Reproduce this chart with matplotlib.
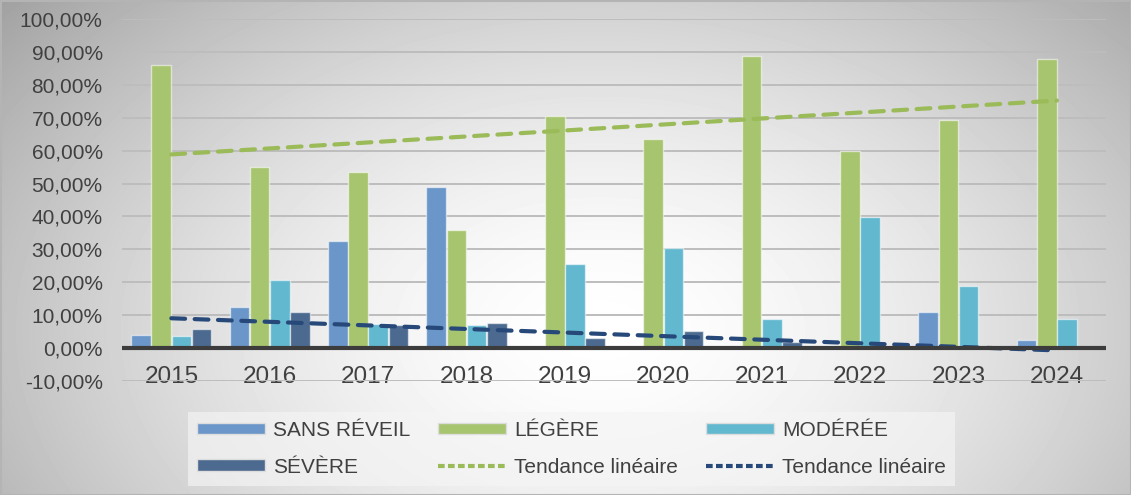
import numpy as np
import matplotlib
matplotlib.use("Agg")
import matplotlib.pyplot as plt
from matplotlib.patches import Rectangle
from matplotlib.lines import Line2D

years = ["2015", "2016", "2017", "2018", "2019", "2020", "2021", "2022", "2023", "2024"]
sans_reveil = [4.0, 12.5, 32.4, 49.0, 0.0, 0.0, 0.0, 0.0, 11.0, 2.6]
legere = [86.0, 55.0, 53.5, 36.0, 70.5, 63.5, 88.8, 60.0, 69.3, 87.8]
moderee = [3.6, 20.7, 7.2, 6.9, 25.6, 30.4, 8.8, 39.8, 18.8, 8.9]
severe = [5.8, 11.0, 7.0, 7.6, 3.2, 5.3, 1.9, 0.0, 0.0, 0.0]

series_names = ["SANS RÉVEIL", "LÉGÈRE", "MODÉRÉE", "SÉVÈRE"]
colors = ["#6A96C9", "#A7C46F", "#62B8CF", "#4C6A8F"]
trend_green = "#9BBB59"
trend_dark = "#27497A"

plt.rcParams["font.family"] = ["Liberation Sans", "DejaVu Sans"]

fig = plt.figure(figsize=(11.31, 4.95), dpi=100)

# radial grey background
bg = fig.add_axes([0, 0, 1, 1], zorder=-10)
yy, xx = np.mgrid[0:495, 0:1131]
r = np.sqrt(((xx - 600) / 660.0) ** 2 + ((yy - 330) / 430.0) ** 2)
shade = 1.0 - 0.28 * np.clip(r, 0, 1.2) ** 1.6
bg.imshow(shade, cmap="gray", vmin=0, vmax=1, aspect="auto", interpolation="bilinear")
bg.add_patch(Rectangle((0, 0), 1130, 494, fill=False, edgecolor="#b4b4b4", lw=1.5))
bg.axis("off")

ax = fig.add_axes([0.108, 0.2303, 0.870, 0.7313])
ax.patch.set_alpha(0)

x = np.arange(len(years))
w = 0.205
data = [sans_reveil, legere, moderee, severe]
for i, (vals, c, name) in enumerate(zip(data, colors, series_names)):
    ax.bar(x + (i - 1.5) * w, vals, width=w * 0.97, color=c,
           edgecolor=(1, 1, 1, 0.55), linewidth=1.0, zorder=3, label=name)

# linear trends
g_fit = np.polyfit(x, legere, 1)
s_fit = np.polyfit(x, severe, 1)
ax.plot(x, np.polyval(g_fit, x), color=trend_green, lw=3, ls=(0, (3.3, 2.3)),
        zorder=4, dash_capstyle="round")
ax.plot(x, np.polyval(s_fit, x), color=trend_dark, lw=3, ls=(0, (3.3, 2.3)),
        zorder=4, dash_capstyle="round")

ax.set_ylim(-10, 100)
ax.set_xlim(-0.5, len(years) - 0.5)
ax.set_yticks(np.arange(-10, 101, 10))
ax.set_yticklabels([f"{v:.2f}%".replace(".", ",") for v in np.arange(-10, 101, 10)],
                   fontsize=15, color="#404040")
ax.grid(axis="y", color="#bdbdbd", lw=1.4, zorder=0)
ax.axhline(0, color="#3c3c3c", lw=3, zorder=5)
ax.set_xticks(x)
ax.set_xticklabels(years, fontsize=17.5, color="#404040")
ax.tick_params(axis="x", length=0, pad=-11)
ax.tick_params(axis="y", length=0, pad=14)
for s in ax.spines.values():
    s.set_visible(False)

handles = [
    Rectangle((0, 0), 1, 1, facecolor=colors[0], edgecolor="#dddddd"),
    Rectangle((0, 0), 1, 1, facecolor=colors[3], edgecolor="#dddddd"),
    Rectangle((0, 0), 1, 1, facecolor=colors[1], edgecolor="#dddddd"),
    Line2D([], [], color=trend_green, lw=3, ls=(0, (1.6, 0.8))),
    Rectangle((0, 0), 1, 1, facecolor=colors[2], edgecolor="#dddddd"),
    Line2D([], [], color=trend_dark, lw=3, ls=(0, (1.6, 0.8))),
]
labels = ["SANS RÉVEIL", "SÉVÈRE", "LÉGÈRE", "Tendance linéaire", "MODÉRÉE", "Tendance linéaire"]
leg = fig.legend(handles, labels, ncol=3, loc="lower left",
                 bbox_to_anchor=(188 / 1131, 9 / 495, 767 / 1131, 76 / 495), mode="expand",
                 frameon=True, fancybox=False, handlelength=3.25, handleheight=0.48,
                 handletextpad=0.38, columnspacing=1.0, labelspacing=0.85,
                 borderpad=0.45, borderaxespad=0, fontsize=15)
leg.get_frame().set_facecolor("#f5f5f5")
leg.get_frame().set_alpha(0.65)
leg.get_frame().set_edgecolor("none")
for t in leg.get_texts():
    t.set_color("#404040")

fig.savefig("out.png", dpi=100)
